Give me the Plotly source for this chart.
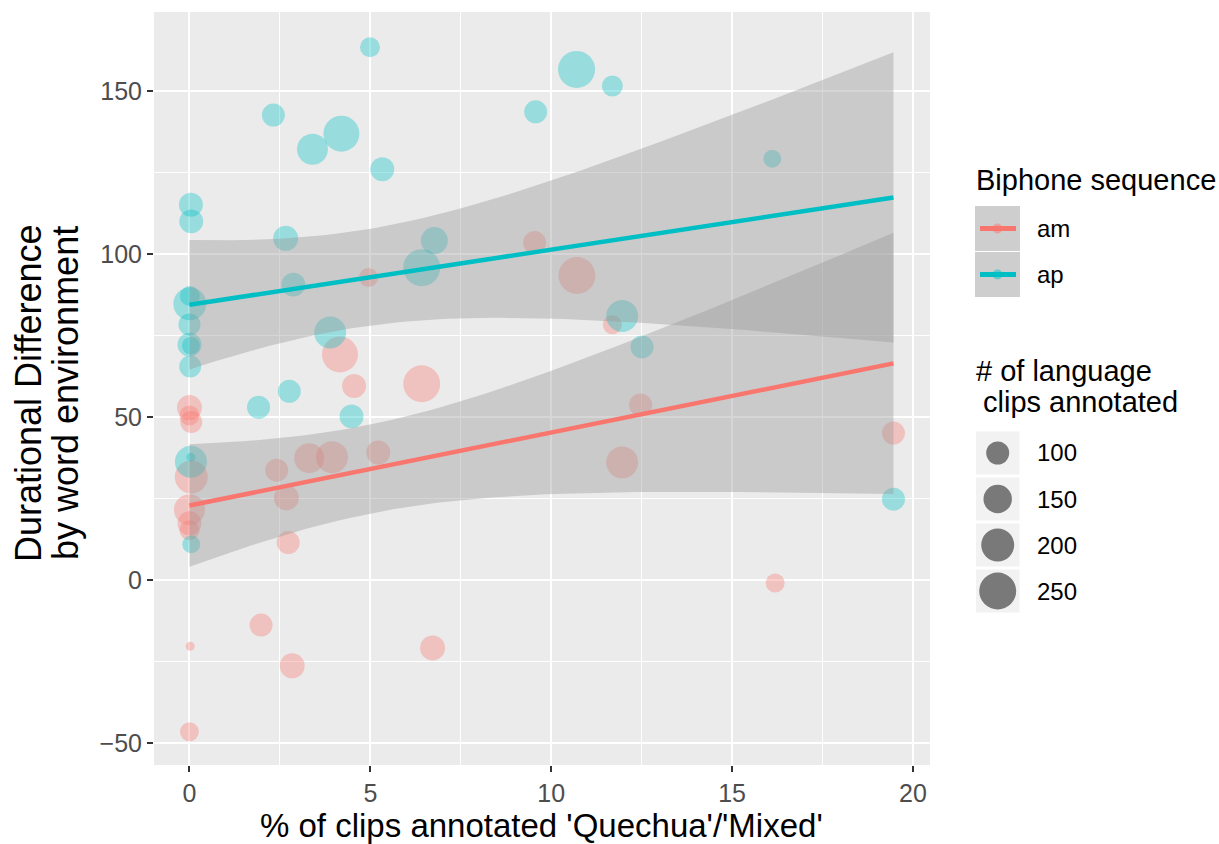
import numpy as np
import plotly.graph_objects as go

# ---------------- data ----------------
series_names = ["am", "ap"]
series_colors = ["#F8766D", "#00BFC4"]

am_x = [9.54, 10.71, 4.95, 11.69, 4.16, 4.55, 6.42, 12.47, 11.96, 5.22, 3.94, 3.31,
        2.41, 2.68, 2.73, 0.0, 0.0, 0.05, 0.05, 0.0, 0.0, 0.0, 1.98, 0.02, 2.84, 0.0,
        6.72, 16.19, 19.46]
am_y = [103.5, 93.4, 92.8, 78.3, 69.2, 59.5, 60.2, 53.7, 36.1, 39.1, 37.7, 37.4,
        33.7, 25.2, 11.5, 52.9, 50.5, 48.5, 31.6, 21.6, 17.4, 15.3, -13.8, -20.3, -26.3,
        -46.5, -20.8, -0.9, 45.1]
am_n = [100, 250, 70, 70, 237, 108, 250, 100, 188, 108, 188, 166,
        100, 117, 100, 117, 77, 92, 200, 177, 108, 77, 100, 20, 117, 70,
        117, 70, 100]

ap_x = [4.99, 10.70, 11.69, 2.32, 9.57, 4.20, 3.40, 5.33, 16.11, 0.04, 0.05, 2.66,
        6.77, 6.42, 2.87, 0.01, 0.01, 0.0, 0.0, 0.04, 0.02, 3.89, 11.96, 12.51, 2.76,
        1.91, 4.48, 0.04, 0.04, 0.05, 19.46]
ap_y = [163.4, 156.6, 151.5, 142.6, 143.6, 136.9, 132.1, 126.0, 129.2, 115.1, 110.0,
        104.8, 104.1, 95.8, 90.6, 87.1, 84.7, 78.4, 72.2, 71.9, 65.5, 75.9, 81.0, 71.5,
        57.9, 53.0, 50.2, 36.3, 37.7, 11.0, 24.8]
ap_n = [77, 250, 84, 100, 100, 237, 177, 108, 63, 108, 108, 117,
        136, 250, 108, 77, 200, 92, 108, 63, 92, 188, 188, 100, 100,
        100, 108, 188, 20, 63, 100]

size_breaks = [100, 150, 200, 250]
x_ticks = [0, 5, 10, 15, 20]
y_ticks = [-50, 0, 50, 100, 150]
x_minor = [2.5, 7.5, 12.5, 17.5]
y_minor = [-25, 25, 75, 125]

x_title = "% of clips annotated 'Quechua'/'Mixed'"
y_title_lines = ["Durational Difference", "by word environment"]
color_legend_title = "Biphone sequence"
size_legend_title = ["# of language", "clips annotated"]

# ---------------- style ----------------
W, H = 1219, 844
ML, MR, MT, MB = 154, 289, 12, 79
PW, PH = W - ML - MR, H - MT - MB
FONT = "Liberation Sans, Arial, Helvetica, sans-serif"
RIBBON = "rgba(153,153,153,0.4)"


def diam(n):
    return np.sqrt(np.maximum(5.6 * np.asarray(n, float) - 31.0, 16.0))


def hex_rgba(h, a):
    h = h.lstrip("#")
    return "rgba(%d,%d,%d,%s)" % (int(h[0:2], 16), int(h[2:4], 16), int(h[4:6], 16), a)


def t_quant(df):
    z = 1.959964
    g1 = (z ** 3 + z) / 4.0
    g2 = (5 * z ** 5 + 16 * z ** 3 + 3 * z) / 96.0
    return z + g1 / df + g2 / df ** 2


def lm_band(x, y, npts=80):
    x = np.asarray(x, float)
    y = np.asarray(y, float)
    n = len(x)
    b, a = np.polyfit(x, y, 1)
    res = y - (a + b * x)
    s = np.sqrt(np.sum(res ** 2) / (n - 2))
    xbar = x.mean()
    sxx = np.sum((x - xbar) ** 2)
    xs = np.linspace(x.min(), x.max(), npts)
    fit = a + b * xs
    se = s * np.sqrt(1.0 / n + (xs - xbar) ** 2 / sxx)
    t = t_quant(n - 2)
    return xs, fit, fit - t * se, fit + t * se


def px_x(px):
    return (px - ML) / PW


def px_y(py):
    return (MT + PH - py) / PH


fig = go.Figure()

groups = [(am_x, am_y, am_n), (ap_x, ap_y, ap_n)]

# points
for (gx, gy, gn), name, col in zip(groups, series_names, series_colors):
    fig.add_trace(go.Scatter(
        x=gx, y=gy, mode="markers", name=name, showlegend=False,
        marker=dict(size=diam(gn), sizemode="diameter", color=hex_rgba(col, 0.5),
                    line=dict(width=0)),
    ))

# smooth ribbons + lines
for (gx, gy, gn), name, col in zip(groups, series_names, series_colors):
    xs, fit, lo, hi = lm_band(gx, gy)
    fig.add_trace(go.Scatter(
        x=np.concatenate([xs, xs[::-1]]), y=np.concatenate([hi, lo[::-1]]),
        mode="lines", fill="toself", fillcolor=RIBBON, line=dict(width=0),
        hoverinfo="skip", showlegend=False,
    ))
    fig.add_trace(go.Scatter(
        x=xs, y=fit, mode="lines", line=dict(color=col, width=4.5),
        showlegend=False, hoverinfo="skip",
    ))

axis_common = dict(
    showgrid=True, gridcolor="white", gridwidth=2, zeroline=False,
    ticks="outside", ticklen=6, tickwidth=2, tickcolor="#333333",
    tickfont=dict(family=FONT, size=25, color="#4D4D4D"),
    showline=False,
)
fig.update_xaxes(range=[-0.98, 20.47], tickvals=x_ticks, ticktext=[str(v) for v in x_ticks],
                 minor=dict(tickvals=x_minor, showgrid=True, gridcolor="white", gridwidth=1, ticks=""),
                 **axis_common)
fig.update_yaxes(range=[-56.7, 174.2], tickvals=y_ticks,
                 ticktext=[("\u2212" + str(-v)) if v < 0 else str(v) for v in y_ticks],
                 minor=dict(tickvals=y_minor, showgrid=True, gridcolor="white", gridwidth=1, ticks=""),
                 **axis_common)

annotations = []
shapes = []

# axis titles
annotations.append(dict(text=x_title, xref="paper", yref="paper", x=px_x(541), y=px_y(825),
                        xanchor="center", yanchor="middle", showarrow=False,
                        font=dict(family=FONT, size=33, color="black")))
for i, line in enumerate(y_title_lines):
    annotations.append(dict(text=line, xref="paper", yref="paper", x=px_x(28 + 37 * i), y=px_y(393),
                            xanchor="center", yanchor="middle", showarrow=False, textangle=-90,
                            font=dict(family=FONT, size=36, color="black")))

# colour legend
annotations.append(dict(text=color_legend_title, xref="paper", yref="paper", x=px_x(974), y=px_y(180),
                        xanchor="left", yanchor="middle", showarrow=False,
                        font=dict(family=FONT, size=29, color="black")))
key_left, key_right = 975, 1020
for i, (name, col) in enumerate(zip(series_names, series_colors)):
    top = 206 + 46 * i
    cy = top + 22.5
    shapes.append(dict(type="rect", xref="paper", yref="paper", x0=px_x(key_left), x1=px_x(key_right),
                       y0=px_y(top + 45), y1=px_y(top), fillcolor="#F2F2F2", line=dict(width=0), layer="above"))
    shapes.append(dict(type="rect", xref="paper", yref="paper", x0=px_x(key_left), x1=px_x(key_right),
                       y0=px_y(top + 45), y1=px_y(top), fillcolor=RIBBON, line=dict(width=0), layer="above"))
    shapes.append(dict(type="line", xref="paper", yref="paper", x0=px_x(980), x1=px_x(1016),
                       y0=px_y(cy), y1=px_y(cy), line=dict(color=col, width=5), layer="above"))
    shapes.append(dict(type="circle", xref="paper", yref="paper", xsizemode="pixel", ysizemode="pixel",
                       xanchor=px_x(997.5), yanchor=px_y(cy), x0=-5, x1=5, y0=-5, y1=5,
                       fillcolor=hex_rgba(col, 0.5), line=dict(width=0), layer="above"))
    annotations.append(dict(text=name, xref="paper", yref="paper", x=px_x(1035), y=px_y(cy),
                            xanchor="left", yanchor="middle", showarrow=False,
                            font=dict(family=FONT, size=24, color="black")))

# size legend
annotations.append(dict(text=size_legend_title[0], xref="paper", yref="paper", x=px_x(974), y=px_y(371),
                        xanchor="left", yanchor="middle", showarrow=False,
                        font=dict(family=FONT, size=29, color="black")))
annotations.append(dict(text=size_legend_title[1], xref="paper", yref="paper", x=px_x(981), y=px_y(402),
                        xanchor="left", yanchor="middle", showarrow=False,
                        font=dict(family=FONT, size=29, color="black")))
bdiam = diam(size_breaks)
for i, (v, d) in enumerate(zip(size_breaks, bdiam)):
    top = 431.5 + 46 * i
    cy = top + 21.5
    shapes.append(dict(type="rect", xref="paper", yref="paper", x0=px_x(976), x1=px_x(1019.5),
                       y0=px_y(top + 43), y1=px_y(top), fillcolor="#F2F2F2", line=dict(width=0), layer="above"))
    r = d / 2.0
    shapes.append(dict(type="circle", xref="paper", yref="paper", xsizemode="pixel", ysizemode="pixel",
                       xanchor=px_x(997.7), yanchor=px_y(cy), x0=-r, x1=r, y0=-r, y1=r,
                       fillcolor="rgba(0,0,0,0.5)", line=dict(width=0), layer="above"))
    annotations.append(dict(text=str(v), xref="paper", yref="paper", x=px_x(1035), y=px_y(cy),
                            xanchor="left", yanchor="middle", showarrow=False,
                            font=dict(family=FONT, size=24, color="black")))

fig.update_layout(
    width=W, height=H,
    margin=dict(l=ML, r=MR, t=MT, b=MB, pad=0),
    plot_bgcolor="#EBEBEB", paper_bgcolor="white",
    font=dict(family=FONT),
    showlegend=False,
    annotations=annotations, shapes=shapes,
)

fig.write_html(
    "out.html",
    config={"displayModeBar": False},
    post_script="document.body.style.margin='0';document.body.style.padding='0';"
                "document.body.style.overflow='hidden';",
)
